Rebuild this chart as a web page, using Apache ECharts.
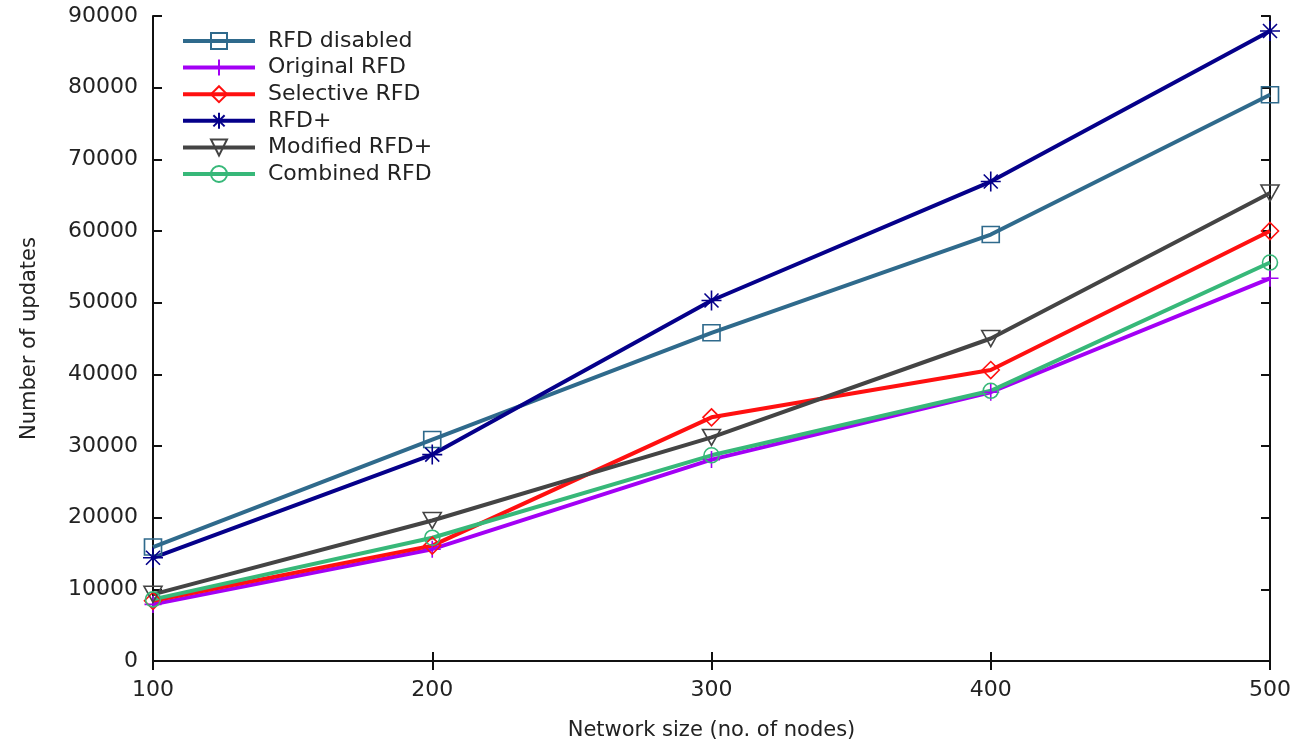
<!DOCTYPE html>
<html>
<head>
<meta charset="utf-8">
<script src="https://cdn.jsdelivr.net/npm/echarts@6/dist/echarts.min.js"></script>
<style>
  html, body { margin: 0; padding: 0; background: #fff; }
  #chart { width: 1301px; height: 746px; }
</style>
</head>
<body>
<div id="chart"></div>
<script>
// Network sizes (x values)
const networkSizes = [100, 200, 300, 400, 500];

// Number of updates for each damping scheme
const rfdDisabled = [15900, 30900, 45800, 59500, 79000];
const originalRfd = [7900, 15600, 28100, 37500, 53400];
const selectiveRfd = [8400, 16100, 34000, 40600, 60000];
const rfdPlus = [14400, 28800, 50300, 66900, 87900];
const modifiedRfdPlus = [9300, 19600, 31200, 45000, 65300];
const combinedRfd = [8600, 17200, 28700, 37700, 55600];

const yTicks = { min: 0, max: 90000, step: 10000 };
const xTicks = { min: 100, max: 500, step: 100 };

const FONT = 'DejaVu Sans';

const PLUS = 'path://M0,-10L0,10M-10,0L10,0';
const ASTER = 'path://M0,-10L0,10M-10,0L10,0M-7,-7L7,7M-7,7L7,-7';
const DIAMOND = 'path://M0,-10L10,0L0,10L-10,0Z';
const TRI_DOWN = 'path://M-10,-8L10,-8L0,10Z';

function makeSeries(name, values, color, symbol, size) {
  return {
    name: name,
    type: 'line',
    data: networkSizes.map((x, i) => [x, values[i]]),
    symbol: symbol,
    symbolSize: size,
    showAllSymbol: true,
    lineStyle: { color: color, width: 4 },
    itemStyle: { color: 'rgba(255,255,255,0)', borderColor: color, borderWidth: 1.6 },
    emphasis: { disabled: true },
    animation: false
  };
}

const series = [
  makeSeries('RFD disabled', rfdDisabled, '#2f6a8c', 'rect', [17, 16]),
  makeSeries('Original RFD', originalRfd, '#a300f5', PLUS, [17, 17]),
  makeSeries('Selective RFD', selectiveRfd, '#ff1010', DIAMOND, [17, 17]),
  makeSeries('RFD+', rfdPlus, '#05008a', ASTER, [20, 20]),
  makeSeries('Modified RFD+', modifiedRfdPlus, '#444444', TRI_DOWN, [18, 16]),
  makeSeries('Combined RFD', combinedRfd, '#37b879', 'circle', [15, 15])
];

const axisLine = { show: true, lineStyle: { color: '#111', width: 2 } };
const tickStyle = { show: true, inside: true, length: 9, lineStyle: { color: '#111', width: 2 } };
const axisLabelStyle = { color: '#222', fontFamily: FONT, fontSize: 22, formatter: v => String(v) };

const chart = echarts.init(document.getElementById('chart'), null, { renderer: 'canvas' });
chart.setOption({
  backgroundColor: '#ffffff',
  animation: false,
  grid: { left: 153, right: 31, top: 16, bottom: 84, containLabel: false },
  legend: {
    left: 176,
    top: 25,
    orient: 'vertical',
    itemWidth: 72,
    itemHeight: 20,
    itemGap: 4.6,
    lineStyle: { width: 4 },
    textStyle: { color: '#222', fontFamily: FONT, fontSize: 22, lineHeight: 20, padding: [0, 0, 0, 8] },
    data: series.map(s => s.name)
  },
  xAxis: [
    {
      type: 'value', min: xTicks.min, max: xTicks.max, interval: xTicks.step,
      name: 'Network size (no. of nodes)', nameLocation: 'middle', nameGap: 59,
      nameTextStyle: { color: '#222', fontFamily: FONT, fontSize: 21 },
      axisLine: axisLine,
      axisTick: tickStyle,
      axisLabel: Object.assign({ margin: 18 }, axisLabelStyle),
      splitLine: { show: false }
    },
    {
      type: 'value', position: 'top', min: xTicks.min, max: xTicks.max, interval: xTicks.step,
      axisLine: axisLine,
      axisTick: tickStyle,
      axisLabel: { show: false },
      splitLine: { show: false }
    }
  ],
  yAxis: [
    {
      type: 'value', min: yTicks.min, max: yTicks.max, interval: yTicks.step,
      name: 'Number of updates', nameLocation: 'middle', nameGap: 113,
      nameTextStyle: { color: '#222', fontFamily: FONT, fontSize: 21 },
      axisLine: axisLine,
      axisTick: tickStyle,
      axisLabel: Object.assign({ margin: 15 }, axisLabelStyle),
      splitLine: { show: false }
    },
    {
      type: 'value', position: 'right', min: yTicks.min, max: yTicks.max, interval: yTicks.step,
      axisLine: axisLine,
      axisTick: tickStyle,
      axisLabel: { show: false },
      splitLine: { show: false }
    }
  ],
  series: series
});
</script>
</body>
</html>
